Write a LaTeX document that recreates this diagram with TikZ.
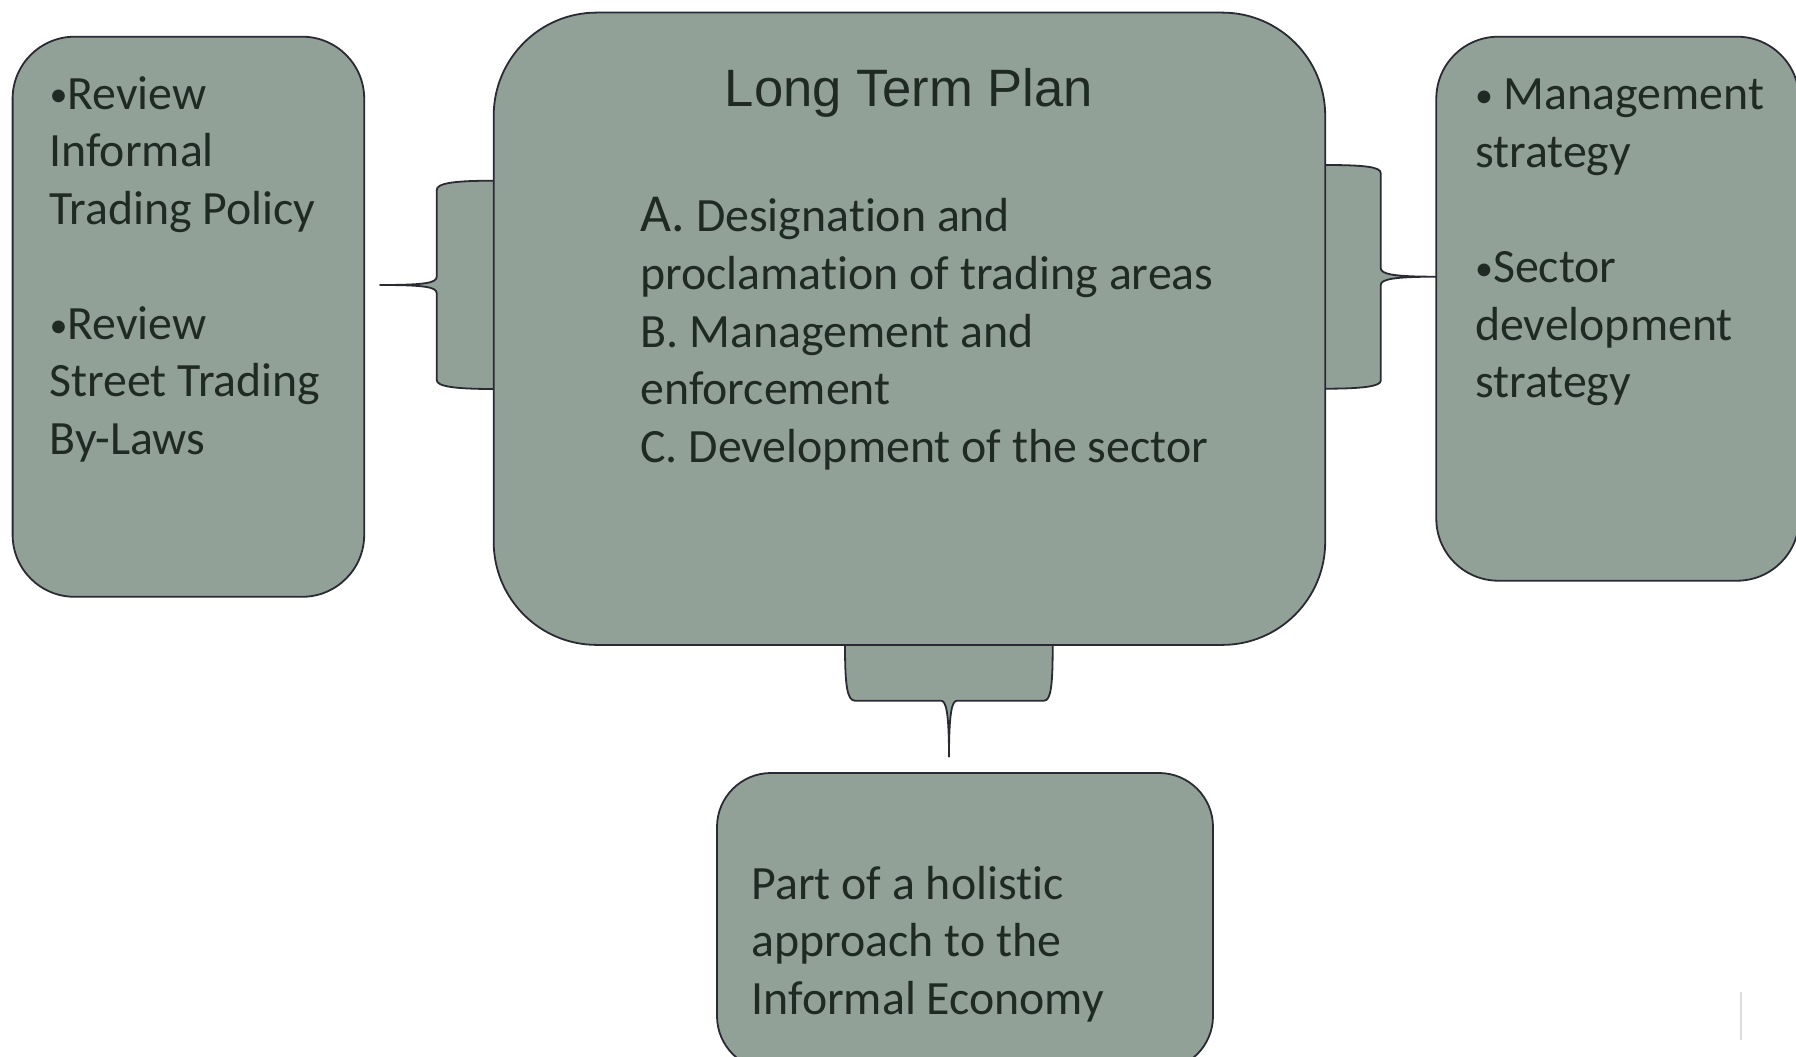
\documentclass[tikz,border=0pt]{standalone}
\usepackage{fontspec}
\setmainfont{Carlito}[Ligatures={TeX,NoCommon}]
\newfontfamily\titlefont{Liberation Sans}
\definecolor{boxfill}{RGB}{145,161,151}
\definecolor{boxline}{RGB}{42,42,52}
\definecolor{ink}{RGB}{32,42,36}
\definecolor{caret}{RGB}{220,220,220}
\newcommand{\bul}{\raisebox{2pt}{\fontsize{36}{40}\selectfont •}}
\begin{document}
\begin{tikzpicture}[x=1pt,y=-1pt,
  box/.style={draw=boxline, fill=boxfill, line width=1.8pt, inner sep=0pt},
  brace/.style={draw=boxline, fill=boxfill, line width=1.8pt, line join=round},
  txt/.style={anchor=base west, inner sep=0pt, text=ink, font=\fontsize{47.8}{57.5}\selectfont}]
\path[use as bounding box] (0,0) rectangle (1796,1057);
\clip (0,0) rectangle (1796,1057);

% brace-shaped callouts joining the plan to the side boxes
\path[brace] (505,180.7) -- (493.7,180.7)
  .. controls (455,180.7) and (436.7,183) .. (436.7,190)
  -- (436.7,276.7) .. controls (436.7,283) and (425,285) .. (380,285)
  .. controls (425,285) and (436.7,287) .. (436.7,293.3)
  -- (436.7,380) .. controls (436.7,386.5) and (455,389) .. (493.7,389)
  -- (505,389) -- cycle;

\path[brace] (1315,165) -- (1325.2,165)
  .. controls (1365,165) and (1380.7,167) .. (1380.7,173)
  -- (1380.7,268) .. controls (1380.7,274.5) and (1395,276.7) .. (1436.7,276.7)
  .. controls (1395,276.7) and (1380.7,279) .. (1380.7,285)
  -- (1380.7,380.7) .. controls (1380.7,386) and (1365,388.7) .. (1325.2,388.7)
  -- (1315,388.7) -- cycle;

\path[brace] (845,635) -- (845,645)
  .. controls (845,685) and (847,700.7) .. (855,700.7)
  -- (941,700.7) .. controls (946,700.7) and (949,712) .. (949,756.7)
  .. controls (949,712) and (952,700.7) .. (957,700.7)
  -- (1044,700.7) .. controls (1051,700.7) and (1052.7,685) .. (1052.7,645)
  -- (1052.7,635) -- cycle;

% boxes
\node (review) [box, rounded corners=62pt, minimum width=351.6pt, minimum height=560.1pt] at (188.4,316.75) {};
\node (plan) [box, rounded corners=103pt, minimum width=831.5pt, minimum height=632.3pt] at (909.45,328.75) {};
\node (strategy) [box, rounded corners=62pt, minimum width=362.7pt, minimum height=544pt] at (1617.65,308.7) {};
\node (holistic) [box, rounded corners=54pt, minimum width=496pt, minimum height=297pt] at (965,921.5) {};

% left box text
\node (l1) [txt] at (49.3,109) {\bul Review};
\node (l2) [txt] at (49.3,166.5) {Informal};
\node (l3) [txt] at (49.3,224) {Trading Policy};
\node (l4) [txt] at (49.3,339) {\bul Review};
\node (l5) [txt] at (49.3,396.5) {Street Trading};
\node (l6) [txt] at (49.3,454) {By-Laws};

% plan text
\node (title) [anchor=base, inner sep=0pt, text=ink, font=\titlefont\fontsize{52.6}{60}\selectfont] at (909,106) {Long Term Plan};
\node (c1) [txt] at (640.3,231.5) {{\fontsize{53.5}{57.5}\selectfont A.} Designation and};
\node (c2) [txt] at (640.3,289.3) {proclamation of trading areas};
\node (c3) [txt] at (640.3,347) {B. Management and};
\node (c4) [txt] at (640.3,404.8) {enforcement};
\node (c5) [txt] at (640.3,462.6) {C. Development of the sector};

% right box text
\node (r1) [txt] at (1475,110) {\bul{} Management};
\node (r2) [txt] at (1475,167.5) {strategy};
\node (r3) [txt] at (1475,282.5) {\bul Sector};
\node (r4) [txt] at (1475,340) {development};
\node (r5) [txt] at (1475,397.5) {strategy};

% bottom box text
\node (b1) [txt] at (751.4,899) {Part of a holistic};
\node (b2) [txt] at (751.4,956.5) {approach to the};
\node (b3) [txt] at (751.4,1014) {Informal Economy};

% faint text cursor
\draw[caret, line width=2.5pt] (1741,992) -- (1741,1040);
\end{tikzpicture}
\end{document}
